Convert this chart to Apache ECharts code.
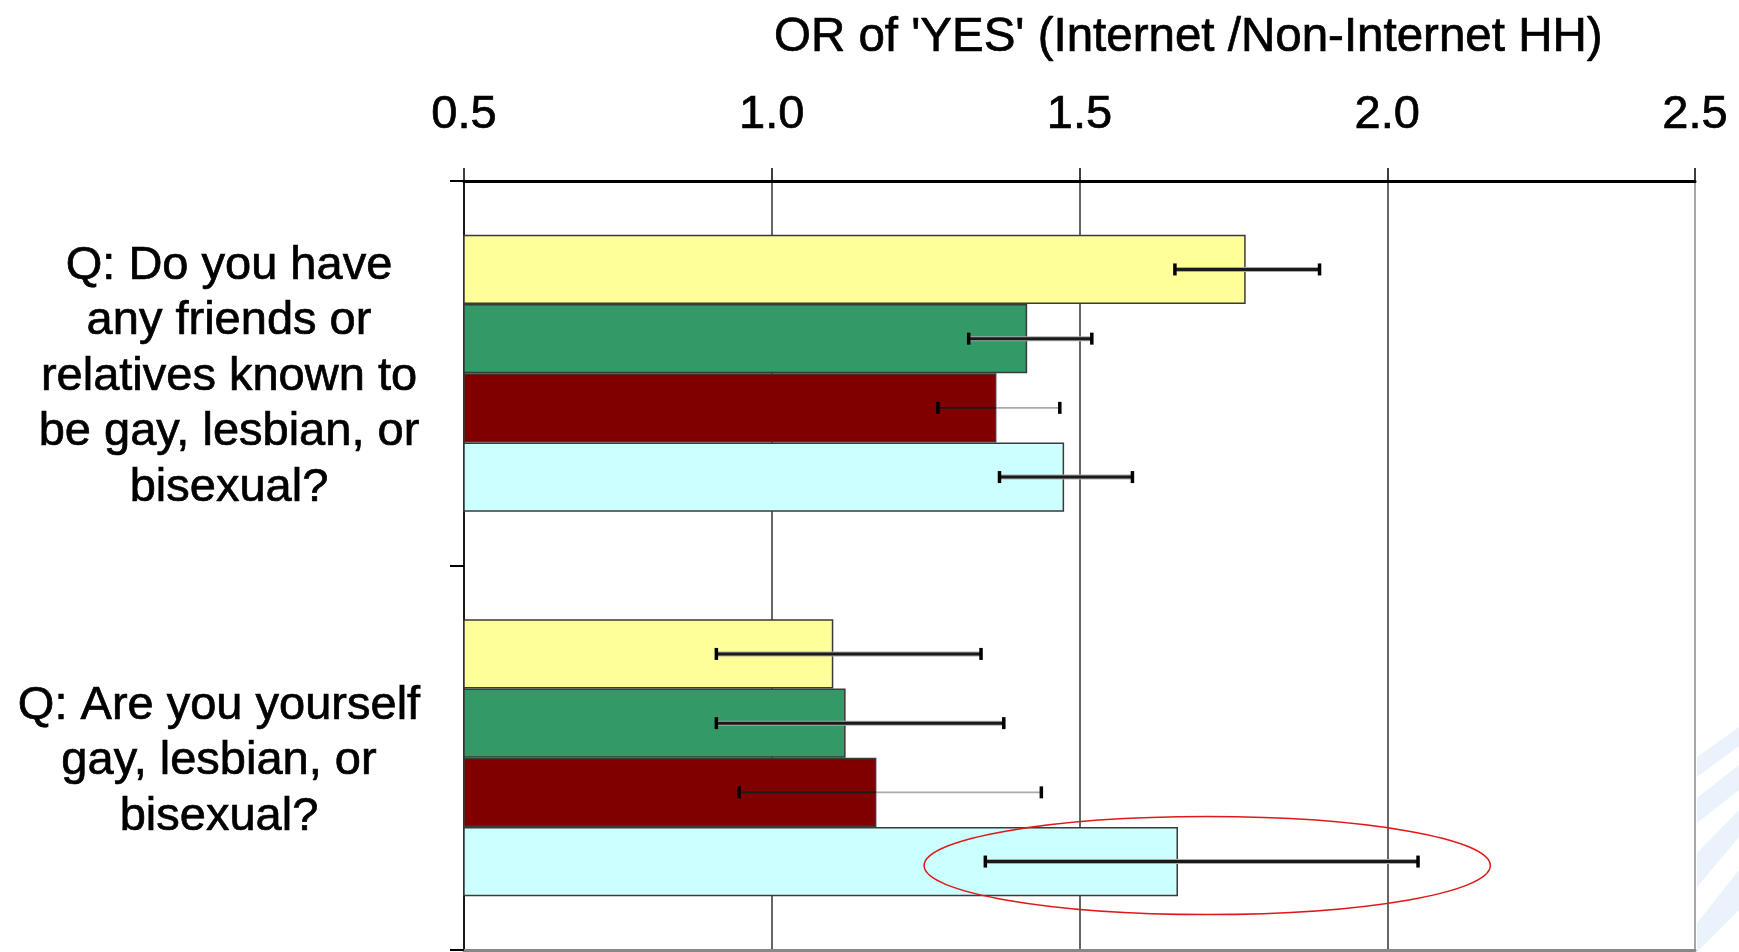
<!DOCTYPE html>
<html>
<head>
<meta charset="utf-8">
<script src="https://cdn.jsdelivr.net/npm/echarts@6/dist/echarts.min.js"></script>
<style>
html, body { margin: 0; padding: 0; background: #fff; }
#chart { width: 1739px; height: 952px; }
</style>
</head>
<body>
<div id="chart"></div>
<script>
// questions (categories, top to bottom)
const questions = [
  'Q: Do you have\nany friends or\nrelatives known to\nbe gay, lesbian, or\nbisexual?',
  'Q: Are you yourself\ngay, lesbian, or\nbisexual?'
]
const seriesNames = ['Group 1', 'Group 2', 'Group 3', 'Group 4']

// odds ratio per group, one value per question
const orGroup1 = [1.77, 1.10]
const orGroup2 = [1.415, 1.12]
const orGroup3 = [1.365, 1.17]
const orGroup4 = [1.475, 1.66]

// confidence interval lower / upper ends
const lowGroup1 = [1.655, 0.91]
const highGroup1 = [1.89, 1.34]
const lowGroup2 = [1.32, 0.91]
const highGroup2 = [1.52, 1.377]
const lowGroup3 = [1.27, 0.947]
const highGroup3 = [1.468, 1.438]
const lowGroup4 = [1.37, 1.347]
const highGroup4 = [1.586, 2.05]

// axis ticks
const xMin = 0.5
const xMax = 2.5
const xStep = 0.5

// highlighted interval (value, question index, half width in OR units)
const highlightCenter = [1.7075, 1]
const highlightHalfWidth = 0.46

const FONT = '"Liberation Sans", Arial, sans-serif'
const CATEGORY_GAP = 0.28
const colors = ['#FFFF99', '#339966', '#800000', '#CCFFFF']

const orValues = [orGroup1, orGroup2, orGroup3, orGroup4]
const lowValues = [lowGroup1, lowGroup2, lowGroup3, lowGroup4]
const highValues = [highGroup1, highGroup2, highGroup3, highGroup4]

function barWidthOf (api) {
  const band = Math.abs(api.size([0, 1])[1])
  return band * (1 - CATEGORY_GAP) / 4
}

function errorBarItem (slot, faint) {
  return function (params, api) {
    const cat = api.value(2)
    const lo = api.coord([api.value(0), cat])
    const hi = api.coord([api.value(1), cat])
    const end = api.coord([api.value(3), cat])
    const y = lo[1] + (slot - 1.5) * barWidthOf(api)
    const cap = 6
    const lw = faint ? 1.6 : 3
    const dark = { stroke: '#1a1a1a', lineWidth: lw }
    const capStyle = { stroke: '#000', lineWidth: 3.5 }
    const children = []
    if (faint && end[0] < hi[0]) {
      children.push({ type: 'line', shape: { x1: lo[0], y1: y, x2: end[0], y2: y }, style: dark })
      children.push({ type: 'line', shape: { x1: end[0], y1: y, x2: hi[0], y2: y }, style: { stroke: '#aaa', lineWidth: lw } })
    } else {
      children.push({ type: 'line', shape: { x1: lo[0], y1: y, x2: hi[0], y2: y }, style: { stroke: '#aaa', lineWidth: lw + 2 } })
      children.push({ type: 'line', shape: { x1: lo[0], y1: y, x2: hi[0], y2: y }, style: dark })
    }
    children.push({ type: 'line', shape: { x1: lo[0], y1: y - cap, x2: lo[0], y2: y + cap }, style: capStyle })
    children.push({ type: 'line', shape: { x1: hi[0], y1: y - cap, x2: hi[0], y2: y + cap }, style: capStyle })
    return { type: 'group', children: children }
  }
}

const series = []
for (let i = 0; i < 4; i++) {
  series.push({
    name: seriesNames[i],
    type: 'bar',
    barGap: '0%',
    barCategoryGap: (CATEGORY_GAP * 100) + '%',
    itemStyle: { color: colors[i], borderColor: '#3a3a3a', borderWidth: 1.5 },
    z: 2,
    data: orValues[i]
  })
}
for (let i = 0; i < 4; i++) {
  const data = []
  for (let c = 0; c < questions.length; c++) {
    data.push([lowValues[i][c], highValues[i][c], c, orValues[i][c]])
  }
  series.push({
    type: 'custom',
    z: 3,
    silent: true,
    encode: { x: [0, 1], y: 2 },
    renderItem: errorBarItem(i, i === 2),
    data: data
  })
}
series.push({
  type: 'custom',
  z: 4,
  silent: true,
  encode: { x: 0, y: 1 },
  renderItem: function (params, api) {
    const c = api.coord([api.value(0), api.value(1)])
    const rx = Math.abs(api.size([highlightHalfWidth, 0])[0])
    return {
      type: 'ellipse',
      shape: { cx: c[0], cy: c[1] + 1.5 * barWidthOf(api) + 4, rx: rx, ry: 49 },
      style: { fill: 'none', stroke: '#E01818', lineWidth: 1.5 }
    }
  },
  data: [highlightCenter]
})

const textBase = { fontFamily: FONT, fontSize: 47, color: '#000', textBorderColor: '#000', textBorderWidth: 0.7 }

const chart = echarts.init(document.getElementById('chart'))
const option = {
  backgroundColor: '#fff',
  animation: false,
  title: {
    text: "OR of 'YES' (Internet /Non-Internet HH)",
    left: 769,
    top: 9,
    textStyle: Object.assign({ fontWeight: 'normal', fontSize: 47.5 }, { fontFamily: FONT, color: '#000', textBorderColor: '#000', textBorderWidth: 0.7 })
  },
  graphic: [
    { type: 'polygon', z: 0, shape: { points: [[1697, 757], [1739, 727], [1739, 746], [1697, 777]] }, style: { fill: '#EAF3FC' } },
    { type: 'polygon', z: 0, shape: { points: [[1697, 798], [1739, 765], [1739, 790], [1697, 823]] }, style: { fill: '#EAF3FC' } },
    { type: 'polygon', z: 0, shape: { points: [[1697, 853], [1739, 810], [1739, 837], [1697, 887]] }, style: { fill: '#EAF3FC' } },
    { type: 'polygon', z: 0, shape: { points: [[1697, 923], [1739, 870], [1739, 910], [1697, 952]] }, style: { fill: '#EAF3FC' } }
  ],
  grid: { left: 464, right: 44, top: 181, bottom: 2, containLabel: false },
  xAxis: [{
    type: 'value',
    position: 'top',
    min: xMin,
    max: xMax,
    interval: xStep,
    axisLine: { show: true, lineStyle: { color: '#000', width: 3 } },
    axisTick: { show: true, inside: false, length: 13, lineStyle: { color: '#000', width: 1.5 } },
    axisLabel: Object.assign({
      margin: 66,
      verticalAlign: 'middle',
      formatter: function (v) { return v.toFixed(1) }
    }, textBase),
    splitLine: {
      show: true,
      lineStyle: { color: ['#333', '#333', '#333', '#333', '#888'], width: 1.5 }
    }
  }, {
    type: 'value',
    position: 'bottom',
    min: xMin,
    max: xMax,
    axisLine: { show: true, lineStyle: { color: '#888', width: 3 } },
    axisTick: { show: false },
    axisLabel: { show: false },
    splitLine: { show: false }
  }],
  yAxis: {
    type: 'category',
    inverse: true,
    data: questions,
    axisLine: { show: true, lineStyle: { color: '#000', width: 1.5 } },
    axisTick: { show: true, length: 14, lineStyle: { color: '#000', width: 2 } },
    axisLabel: {
      margin: 235,
      align: 'center',
      formatter: function (v, i) {
        return i === 0 ? '{a|' + v + '}' : '{b|' + v + '}'
      },
      rich: {
        a: Object.assign({ lineHeight: 55.5, align: 'center', padding: [7, 0, 0, 0] }, textBase),
        b: Object.assign({ lineHeight: 55.5, align: 'center', padding: [7, 20, 0, 0] }, textBase)
      }
    },
    splitLine: { show: false }
  },
  series: series
}
chart.setOption(option)
window.onresize = () => { chart.resize() }
</script>
</body>
</html>
